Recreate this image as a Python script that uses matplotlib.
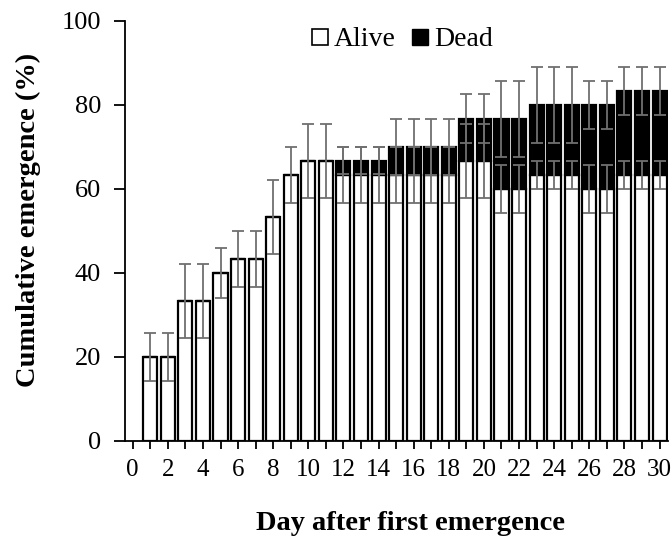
import numpy as np
import matplotlib
matplotlib.use('Agg')
import matplotlib.pyplot as plt
from matplotlib.lines import Line2D

plt.rcParams['font.family'] = ['Liberation Serif', 'DejaVu Serif']

# Data
days = np.arange(1, 31)
alive = [20, 20, 33.3, 33.3, 40, 43.3, 43.3, 53.3, 63.3, 66.7, 66.7,
         63.3, 63.3, 63.3, 63.3, 63.3, 63.3, 63.3, 66.7, 66.7, 60, 60,
         63.3, 63.3, 63.3, 60, 60, 63.3, 63.3, 63.3]
total = [20, 20, 33.3, 33.3, 40, 43.3, 43.3, 53.3, 63.3, 66.7, 66.7,
         66.7, 66.7, 66.7, 70, 70, 70, 70, 76.7, 76.7, 76.7, 76.7,
         80, 80, 80, 80, 80, 83.3, 83.3, 83.3]
alive_se = [5.8, 5.8, 8.8, 8.8, 5.9, 6.6, 6.6, 8.8, 6.6, 8.8, 8.8,
            6.6, 6.6, 6.6, 6.6, 6.6, 6.6, 6.6, 8.8, 8.8, 5.8, 5.8,
            3.4, 3.4, 3.4, 5.8, 5.8, 3.4, 3.4, 3.4]
total_se = [5.8, 5.8, 8.8, 8.8, 5.9, 6.6, 6.6, 8.8, 6.6, 8.8, 8.8,
            3.2, 3.2, 3.2, 6.6, 6.6, 6.6, 6.6, 5.8, 5.8, 9.0, 9.0,
            9.0, 9.0, 9.0, 5.8, 5.8, 5.7, 5.7, 5.7]

alive = np.array(alive)
total = np.array(total)
dead = total - alive

fig = plt.figure(figsize=(6.71, 5.37), dpi=100)
ax = fig.add_axes([0.186, 0.179, 0.81, 0.782])

ax.bar(days, alive, width=0.8, color='white', edgecolor='black', linewidth=1.6, zorder=2)
ax.bar(days, dead, bottom=alive, width=0.8, color='black', edgecolor='black', linewidth=1.6, zorder=2)

# error bars: alive portion and stacked total
err_kw = dict(fmt='none', ecolor='#707070', elinewidth=1.3, capsize=4.2, capthick=1.3, zorder=3)
ax.errorbar(days, alive, yerr=alive_se, **err_kw)
has_dead = dead > 0
ax.errorbar(days[has_dead], total[has_dead], yerr=np.array(total_se)[has_dead], **err_kw)

ax.set_xlim(-0.45, 30.5)
ax.set_ylim(0, 100)
ax.set_xticks(np.arange(0, 31))
ax.set_xticklabels([str(d) if d % 2 == 0 else '' for d in range(31)])
ax.set_yticks(np.arange(0, 101, 20))
ax.tick_params(axis='y', labelsize=19, width=1.3, length=8, direction='out', pad=9)
ax.tick_params(axis='x', labelsize=18, width=1.3, length=6, direction='out', pad=7)
ax.spines['top'].set_visible(False)
ax.spines['right'].set_visible(False)
ax.spines['left'].set_linewidth(1.3)
ax.spines['bottom'].set_linewidth(1.3)

ax.set_xlabel('Day after first emergence', fontsize=20.5, fontweight='bold')
ax.set_ylabel('Cumulative emergence (%)', fontsize=20.5, fontweight='bold')
ax.xaxis.set_label_coords(0.525, -0.168)
ax.yaxis.set_label_coords(-0.155, 0.526)

handles = [Line2D([], [], marker='s', linestyle='none', markersize=11,
                  markerfacecolor='white', markeredgecolor='black', markeredgewidth=1.2),
           Line2D([], [], marker='s', linestyle='none', markersize=11,
                  markerfacecolor='black', markeredgecolor='black')]
ax.legend(handles, ['Alive', 'Dead'], loc='upper center', bbox_to_anchor=(0.505, 1.045),
          ncol=2, frameon=False, fontsize=20, handletextpad=0.0, columnspacing=0.4,
          handlelength=1.0)

fig.savefig('out.png', dpi=100)
